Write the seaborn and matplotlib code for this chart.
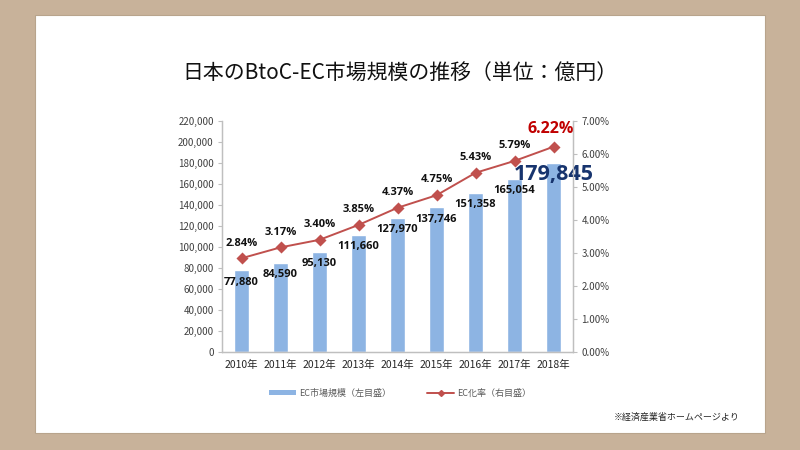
import numpy as np
import matplotlib.pyplot as plt
import seaborn as sns
from matplotlib.patches import Rectangle
from matplotlib.lines import Line2D
from matplotlib.ticker import FuncFormatter, MultipleLocator

# data
years = ["2010年", "2011年", "2012年", "2013年", "2014年", "2015年", "2016年", "2017年", "2018年"]
market = [77880, 84590, 95130, 111660, 127970, 137746, 151358, 165054, 179845]
ec_rate = [2.84, 3.17, 3.40, 3.85, 4.37, 4.75, 5.43, 5.79, 6.22]

sns.set_theme(style="white")
plt.rcParams["font.family"] = ["Noto Sans CJK JP", "DejaVu Sans"]

bar_color = "#8db4e3"
line_color = "#c0504d"
tick_color = "#404040"

fig = plt.figure(figsize=(8, 4.5), dpi=100)
fig.patch.set_facecolor("#c8b29a")
fig.patches.append(Rectangle((35 / 800, 1 - 433 / 450), 730 / 800, 418 / 450,
                             transform=fig.transFigure, facecolor="white",
                             edgecolor="#b8a48c", linewidth=0.8, zorder=-10))

ax = fig.add_axes([222 / 800, 1 - 352 / 450, 351 / 800, 231 / 450])
ax.set_facecolor("none")

sns.barplot(x=years, y=market, ax=ax, color=bar_color, width=0.4, saturation=1)
ax.set_ylim(0, 220000)
ax.yaxis.set_major_locator(MultipleLocator(20000))
ax.yaxis.set_major_formatter(FuncFormatter(lambda v, p: f"{int(v):,}"))
ax.set_xlim(-0.5, len(years) - 0.5)

ax2 = ax.twinx()
sns.pointplot(x=list(range(len(years))), y=[r / 100 for r in ec_rate], ax=ax2,
              color=line_color, markers="D", linestyles="-", native_scale=True,
              markersize=5, linewidth=1.4)
ax2.set_ylim(0, 0.07)
ax2.yaxis.set_major_locator(MultipleLocator(0.01))
ax2.yaxis.set_major_formatter(FuncFormatter(lambda v, p: f"{v * 100:.2f}%"))
ax2.set_xlim(-0.5, len(years) - 0.5)

for a in (ax, ax2):
    a.spines["top"].set_visible(False)
    for s in ("left", "right", "bottom"):
        a.spines[s].set_color("#bfbfbf")
        a.spines[s].set_linewidth(0.9)
    a.tick_params(axis="y", labelsize=7, colors=tick_color, length=3, width=0.8,
                  direction="out", color="#bfbfbf", pad=3)
    a.set_xlabel("")
    a.set_ylabel("")

ax.tick_params(axis="x", labelsize=7.5, colors="#262626", length=0, pad=6)
ax.set_xticks(range(len(years)))
ax.set_xticklabels(years)
ax.set_xticks(np.arange(-0.5, len(years), 1.0), minor=True)
ax.tick_params(axis="x", which="minor", length=4, color="#bfbfbf", width=0.8)
ax2.tick_params(axis="x", length=0)
ax.grid(False)
ax2.grid(False)

# bar value labels
for i, v in enumerate(market):
    if i == len(market) - 1:
        ax.annotate(f"{v:,}", (i, v), xytext=(0, -8), textcoords="offset points",
                    ha="center", va="center", fontsize=15.5, fontweight="bold",
                    color="#17346e", family=["Open Sans", "DejaVu Sans"])
    else:
        ax.annotate(f"{v:,}", (i, v), xytext=(0, -8.5), textcoords="offset points",
                    ha="center", va="center", fontsize=8, fontweight="bold",
                    color="#111111", family=["Open Sans", "DejaVu Sans"])

# rate labels
for i, r in enumerate(ec_rate):
    if i == len(ec_rate) - 1:
        ax2.annotate(f"{r:.2f}%", (i, r / 100), xytext=(-2, 13), textcoords="offset points",
                     ha="center", va="center", fontsize=11.5, fontweight="bold",
                     color="#c00000", family=["Open Sans", "DejaVu Sans"])
    else:
        ax2.annotate(f"{r:.2f}%", (i, r / 100), xytext=(0, 11), textcoords="offset points",
                     ha="center", va="center", fontsize=8, fontweight="bold",
                     color="#111111", family=["Open Sans", "DejaVu Sans"])

fig.text(0.5, 1 - 73 / 450, "日本のBtoC-EC市場規模の推移（単位：億円）",
         ha="center", va="center", fontsize=15, color="#111111")

handles = [Rectangle((0, 0), 1, 1, facecolor=bar_color, edgecolor="none"),
           Line2D([], [], color=line_color, marker="D", markersize=3, linewidth=1.4)]
fig.legend(handles, ["EC市場規模（左目盛）", "EC化率（右目盛）"], loc="center",
           bbox_to_anchor=(0.5, 1 - 393 / 450), ncol=2, frameon=False, fontsize=6.5,
           labelcolor="#595959", handlelength=3, handleheight=0.5, columnspacing=4,
           handletextpad=0.3)

fig.text(740 / 800, 1 - 417 / 450, "※経済産業省ホームページより", ha="right", va="center",
         fontsize=6.5, color="#262626")

plt.savefig("out.png", dpi=100)
